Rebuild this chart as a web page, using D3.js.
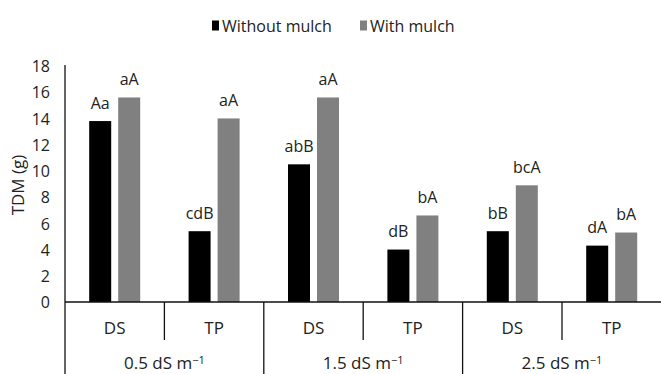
<!DOCTYPE html>
<html>
<head>
<meta charset="utf-8">
<script src="https://cdn.jsdelivr.net/npm/d3@7"></script>
<style>
  html, body { margin: 0; padding: 0; background: #fff; }
  svg { display: block; }
  text { font-family: "Open Sans", Lato, sans-serif; fill: #222; }
</style>
</head>
<body>
<svg id="chart" width="661" height="374"></svg>
<script>
// Salinity levels, each split into two establishment methods
const salinity = ["0.5", "1.5", "2.5"];
const methods = ["DS", "TP"];
const series = ["Without mulch", "With mulch"];
const seriesColors = ["#000000", "#808080"];

// Total dry matter (g) per salinity × method, for each series
const withoutMulch = [13.8, 5.4, 10.5, 4.0, 5.4, 4.3];
const withMulch    = [15.6, 14.0, 15.6, 6.6, 8.9, 5.3];

// Mean-separation letters printed above the bars
const withoutLabels = ["Aa", "cdB", "abB", "dB", "bB", "dA"];
const withLabels    = ["aA", "aA", "aA", "bA", "bcA", "bA"];

const yTicks = [0, 2, 4, 6, 8, 10, 12, 14, 16, 18];

const svg = d3.select("#chart");
const plotLeft = 65, plotRight = 661.4, plotTop = 66, baseY = 302;
const fontStack = '"Open Sans", Lato, sans-serif';

const cats = salinity.flatMap(s => methods.map(m => s + "|" + m));

const x = d3.scaleBand().domain(cats).range([plotLeft, plotRight]).paddingInner(0).paddingOuter(0);
const xs = d3.scaleBand().domain(series).range([0, x.bandwidth()])
  .paddingInner(7 / 29).paddingOuter(0.834);
const y = d3.scaleLinear().domain([0, 18]).range([baseY, plotTop]);

// Y tick labels (no tick marks, no gridlines)
const yAxis = d3.axisLeft(y).tickValues(yTicks).tickSize(0).tickPadding(0);
const yg = svg.append("g").attr("transform", `translate(${plotLeft - 15},0)`).call(yAxis);
yg.select(".domain").remove();
yg.selectAll("text").style("font-family", fontStack).style("font-size", "16px")
  .attr("fill", "#222").attr("dy", "0.36em");

// Y axis title
svg.append("text")
  .attr("transform", `translate(24,${(plotTop + baseY) / 2 + 1}) rotate(-90)`)
  .attr("text-anchor", "middle")
  .style("font-size", "17px")
  .text("TDM (g)");

// Bars
const rows = cats.map((c, i) => ({ cat: c, vals: [withoutMulch[i], withMulch[i]], labs: [withoutLabels[i], withLabels[i]] }));
const groups = svg.append("g").selectAll("g").data(rows).join("g")
  .attr("transform", d => `translate(${x(d.cat)},0)`);

groups.selectAll("rect")
  .data(d => d.vals.map((v, j) => ({ s: series[j], v, j })))
  .join("rect")
  .attr("x", d => xs(d.s))
  .attr("width", xs.bandwidth())
  .attr("y", d => y(d.v))
  .attr("height", d => y(0) - y(d.v))
  .attr("fill", d => seriesColors[d.j]);

groups.selectAll("text.lab")
  .data(d => d.labs.map((l, j) => ({ s: series[j], l, v: d.vals[j] })))
  .join("text")
  .attr("class", "lab")
  .attr("x", d => xs(d.s) + xs.bandwidth() / 2)
  .attr("y", d => y(d.v) - 12.5)
  .attr("text-anchor", "middle")
  .style("font-size", "16px")
  .text(d => d.l);

// Axis lines
const axisColor = "#111";
svg.append("line").attr("x1", plotLeft).attr("x2", plotLeft).attr("y1", plotTop - 1).attr("y2", 374)
  .attr("stroke", axisColor).attr("stroke-width", 1.3);
svg.append("line").attr("x1", plotLeft).attr("x2", 661).attr("y1", baseY).attr("y2", baseY)
  .attr("stroke", axisColor).attr("stroke-width", 1.3);

// Category dividers: short between methods, full height between salinity levels
cats.forEach((c, i) => {
  if (i === 0) return;
  const xx = x(c);
  const full = i % methods.length === 0;
  svg.append("line").attr("x1", xx).attr("x2", xx)
    .attr("y1", baseY).attr("y2", full ? 374 : 340)
    .attr("stroke", axisColor).attr("stroke-width", 1.3);
});

// Method labels
svg.append("g").selectAll("text").data(cats).join("text")
  .attr("x", d => x(d) + x.bandwidth() / 2)
  .attr("y", 334)
  .attr("text-anchor", "middle")
  .style("font-size", "17px")
  .text(d => d.split("|")[1]);

// Salinity labels
const groupLabels = svg.append("g").selectAll("text").data(salinity).join("text")
  .attr("x", (d, i) => x(cats[i * 2]) + x.bandwidth())
  .attr("y", 369)
  .attr("text-anchor", "middle")
  .style("font-size", "17px");
groupLabels.append("tspan").text(d => d + " dS m");
groupLabels.append("tspan").attr("dy", "-0.45em").style("font-size", "11px").text("\u22121");

// Legend
const legendItems = [
  { name: series[0], color: seriesColors[0], x: 212 },
  { name: series[1], color: seriesColors[1], x: 360 }
];
const lg = svg.append("g").selectAll("g").data(legendItems).join("g")
  .attr("transform", d => `translate(${d.x},20)`);
lg.append("rect").attr("width", 7).attr("height", 10).attr("y", 0.5).attr("fill", d => d.color);
lg.append("text").attr("x", 10).attr("y", 11.5).style("font-size", "16px").text(d => d.name);
</script>
</body>
</html>
